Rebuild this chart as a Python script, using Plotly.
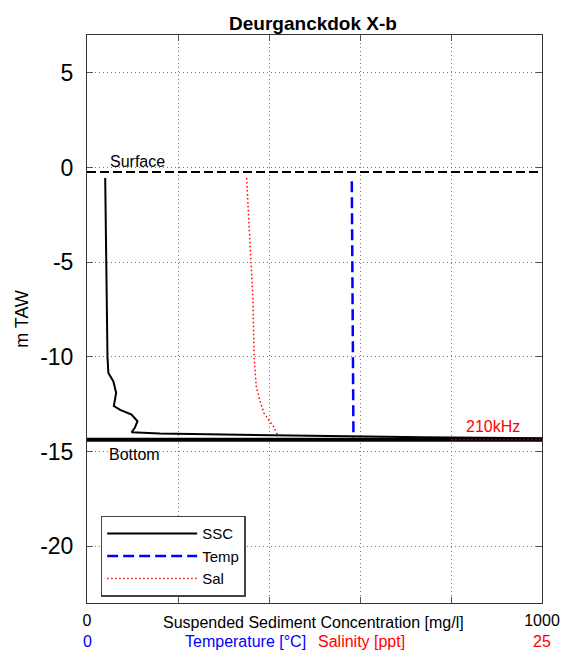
import plotly.graph_objects as go

# ---- data ----
title_text = "Deurganckdok X-b"

ssc_depth = [-0.55, -3.0, -5.0, -8.0, -10.0, -10.85, -11.3, -11.9, -12.6, -12.8,
             -13.05, -13.4, -13.75, -13.98, -14.05, -14.1, -14.15, -14.2, -14.25, -14.3]
ssc_values = [40, 41, 42, 43, 45, 47, 58, 64, 59, 73,
              98, 111, 105, 98, 160, 300, 440, 600, 740, 1000]

temp_depth = [-0.72, -3.0, -6.0, -9.0, -12.0, -14.27]
temp_values = [14.55, 14.56, 14.57, 14.58, 14.60, 14.64]

sal_depth = [-0.55, -2.0, -4.0, -5.0, -7.0, -10.0, -10.85, -11.55, -12.25, -12.96,
             -13.49, -13.67, -14.2]
sal_values = [8.77, 8.85, 8.98, 9.05, 9.12, 9.18, 9.23, 9.30, 9.48, 9.72,
              10.10, 10.24, 10.51]

surface_level = -0.23
bottom_level = -14.38
ssc_range = [0, 1000]
ts_range = [0, 25]
freq_label = "210kHz"
freq_range = [800, 1000]

y_ticks = [-20, -15, -10, -5, 0, 5]
y_ticktext = ["-20", "-15", "-10", "-5", "0", "5"]
x_ticks = [0, 200, 400, 600, 800, 1000]
x_ticktext = ["0", "", "", "", "", "1000"]

FONT = "Liberation Sans, Arial, sans-serif"
W, H = 561, 651

fig = go.Figure()

# surface and bottom reference lines
fig.add_trace(go.Scatter(x=ssc_range, y=[surface_level, surface_level], mode="lines",
                         line=dict(color="black", width=2, dash="9px,4px"),
                         showlegend=False, hoverinfo="skip"))
fig.add_trace(go.Scatter(x=ssc_range, y=[bottom_level, bottom_level], mode="lines",
                         line=dict(color="black", width=4),
                         showlegend=False, hoverinfo="skip"))

fig.add_trace(go.Scatter(x=ssc_values, y=ssc_depth, mode="lines", name="SSC",
                         line=dict(color="black", width=2)))
fig.add_trace(go.Scatter(x=temp_values, y=temp_depth, mode="lines", name="Temp",
                         xaxis="x2", line=dict(color="#0000ff", width=2.5, dash="11px,5px")))
fig.add_trace(go.Scatter(x=sal_values, y=sal_depth, mode="lines", name="Sal",
                         xaxis="x2", line=dict(color="#ff0000", width=1.5, dash="1.5px,2.5px")))

fig.add_trace(go.Scatter(x=freq_range, y=[bottom_level, bottom_level], mode="lines",
                         line=dict(color="#d00000", width=1, dash="2px,2px"),
                         showlegend=False, hoverinfo="skip"))

axis_common = dict(showline=True, linecolor="#333333", linewidth=1, mirror="ticks",
                   ticks="inside", ticklen=6, tickcolor="#555555",
                   showgrid=True, gridcolor="#777777", gridwidth=1, griddash="1px,3px",
                   zeroline=False, automargin=False)

fig.update_layout(
    width=W, height=H,
    margin=dict(l=87, r=19, t=35, b=48),
    paper_bgcolor="white", plot_bgcolor="white",
    font=dict(family=FONT, color="black"),
    title=dict(text=title_text, x=313 / W, xanchor="center", y=1 - 23 / H, yanchor="middle",
               font=dict(size=19, weight="bold", family=FONT)),
    xaxis=dict(range=ssc_range, tickvals=x_ticks, ticktext=x_ticktext,
               tickfont=dict(size=16), ticklabelstandoff=3, **axis_common),
    xaxis2=dict(range=ts_range, overlaying="x", side="bottom", visible=False),
    yaxis=dict(range=[-23, 7], tickvals=y_ticks, ticktext=y_ticktext, tickfont=dict(size=23),
               ticklabelstandoff=8,
               title=dict(text="m TAW", font=dict(size=18), standoff=6), **axis_common),
    legend=dict(x=0.030, y=0.1537, xanchor="left", yanchor="top",
                bgcolor="white", bordercolor="#444444", borderwidth=1.5,
                font=dict(size=15), itemwidth=90, tracegroupgap=0,
                entrywidth=150, entrywidthmode="pixels"),
    showlegend=True,
)

annotations = [
    dict(text="Surface", x=111, y=surface_level, xref="x", yref="y", yshift=10,
         showarrow=False, font=dict(size=16), xanchor="center", yanchor="middle"),
    dict(text="Bottom", x=105, y=-15.16, xref="x", yref="y",
         showarrow=False, font=dict(size=16), xanchor="center", yanchor="middle"),
    dict(text=freq_label, x=892, y=-13.67, xref="x", yref="y",
         showarrow=False, font=dict(size=16, color="#ff0000"), xanchor="center", yanchor="middle"),
    dict(text="Suspended Sediment Concentration [mg/l]", x=497, y=0, xref="x", yref="paper",
         yshift=-19.4, showarrow=False, font=dict(size=16), xanchor="center", yanchor="middle"),
    dict(text="0", x=ts_range[0], y=0, xref="x2", yref="paper", yshift=-38.4,
         showarrow=False, font=dict(size=16, color="#0000ff"), xanchor="center", yanchor="middle"),
    dict(text="Temperature [°C]", x=8.73, y=0, xref="x2", yref="paper", yshift=-38.4,
         showarrow=False, font=dict(size=16, color="#0000ff"), xanchor="center", yanchor="middle"),
    dict(text="Salinity [ppt]", x=15.1, y=0, xref="x2", yref="paper", yshift=-38.4,
         showarrow=False, font=dict(size=16, color="#ff0000"), xanchor="center", yanchor="middle"),
    dict(text="25", x=ts_range[1], y=0, xref="x2", yref="paper", yshift=-38.4,
         showarrow=False, font=dict(size=16, color="#ff0000"), xanchor="center", yanchor="middle"),
]
fig.update_layout(annotations=annotations)

# remove the default page margin so the figure sits at the window origin
fig.write_html("out.html",
               config={"displayModeBar": False},
               post_script="document.body.style.margin='0';"
                           "document.documentElement.style.overflow='hidden';")
